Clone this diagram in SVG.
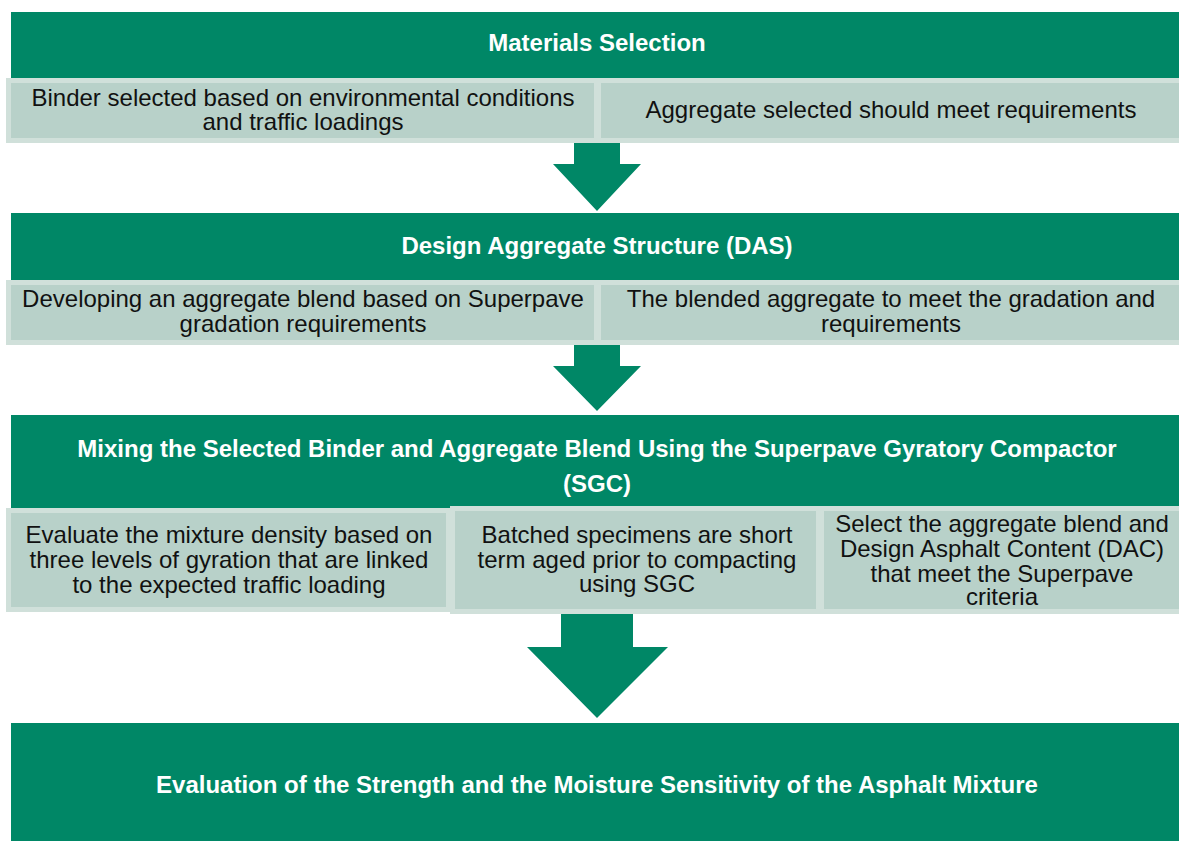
<svg xmlns="http://www.w3.org/2000/svg" width="1179" height="841" viewBox="0 0 1179 841">
<style>
.hdr{fill:#008766}
.sub{fill:#b8d1c9;stroke:#d0e0da;stroke-width:5}
.arr{fill:#008766}
.ht{font-family:"Liberation Sans",Arial,sans-serif;font-weight:bold;font-size:24px;fill:#ffffff;text-anchor:middle}
.bt{font-family:"Liberation Sans",Arial,sans-serif;font-size:24px;fill:#111111;text-anchor:middle}
</style>
<rect width="1179" height="841" fill="#ffffff"/>
<g id="connectors">
<polygon class="arr" points="574,143 620,143 620,164 641,164 597,211 553,164 574,164"/>
<polygon class="arr" points="574,345 620,345 620,366 641,366 597,411 553,366 574,366"/>
<polygon class="arr" points="561,612 633,612 633,647 668,647 597,718 527,647 561,647"/>
</g>
<g id="n1">
<rect class="hdr" x="11" y="12" width="1168" height="66"/>
<text class="ht" x="597" y="51">Materials Selection</text>
</g>
<g id="n1a">
<rect class="sub" x="8.5" y="80.5" width="588" height="60"/>
<text class="bt" x="303" y="106">Binder selected based on environmental conditions</text>
<text class="bt" x="303" y="130">and traffic loadings</text>
</g>
<g id="n1b">
<rect class="sub" x="598.5" y="80.5" width="583" height="60"/>
<text class="bt" x="891" y="118">Aggregate selected should meet requirements</text>
</g>
<g id="n2">
<rect class="hdr" x="11" y="213" width="1168" height="67"/>
<text class="ht" x="597" y="254">Design Aggregate Structure (DAS)</text>
</g>
<g id="n2a">
<rect class="sub" x="8.5" y="282.5" width="588" height="60"/>
<text class="bt" x="303" y="307">Developing an aggregate blend based on Superpave</text>
<text class="bt" x="303" y="332">gradation requirements</text>
</g>
<g id="n2b">
<rect class="sub" x="598.5" y="282.5" width="583" height="60"/>
<text class="bt" x="891" y="307">The blended aggregate to meet the gradation and</text>
<text class="bt" x="891" y="332">requirements</text>
</g>
<g id="n3">
<rect class="hdr" x="11" y="415" width="1168" height="93"/>
<text class="ht" x="597" y="457">Mixing the Selected Binder and Aggregate Blend Using the Superpave Gyratory Compactor</text>
<text class="ht" x="597" y="492">(SGC)</text>
</g>
<g id="n3a">
<rect class="sub" x="8.5" y="510.5" width="440" height="99"/>
<text class="bt" x="229" y="543">Evaluate the mixture density based on</text>
<text class="bt" x="229" y="568">three levels of gyration that are linked</text>
<text class="bt" x="229" y="593">to the expected traffic loading</text>
</g>
<g id="n3b">
<rect class="sub" x="452.5" y="508.5" width="366" height="103"/>
<text class="bt" x="637" y="543">Batched specimens are short</text>
<text class="bt" x="637" y="568">term aged prior to compacting</text>
<text class="bt" x="637" y="592">using SGC</text>
</g>
<g id="n3c">
<rect class="sub" x="821.5" y="508.5" width="360" height="103"/>
<text class="bt" x="1002" y="532">Select the aggregate blend and</text>
<text class="bt" x="1002" y="557">Design Asphalt Content (DAC)</text>
<text class="bt" x="1002" y="582">that meet the Superpave</text>
<text class="bt" x="1002" y="605">criteria</text>
</g>
<g id="n4">
<rect class="hdr" x="11" y="723" width="1168" height="118"/>
<text class="ht" x="597" y="793">Evaluation of the Strength and the Moisture Sensitivity of the Asphalt Mixture</text>
</g>
</svg>
